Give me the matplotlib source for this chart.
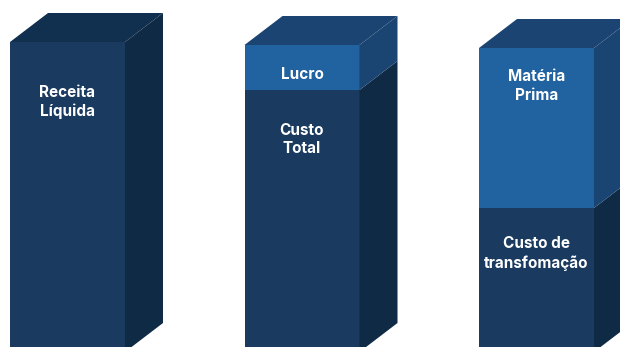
import numpy as np
import matplotlib
matplotlib.use('Agg')
import matplotlib.pyplot as plt
from matplotlib.patches import Polygon

# Stacked segments of each column (bottom -> top), arbitrary units
bars = ['Receita Líquida', 'Custo Total + Lucro', 'Matéria Prima + Transformação']
bottom_vals = [310, 262, 144]      # Receita Líquida / Custo Total / Custo de transformação
top_vals = [0, 45, 160]            # - / Lucro / Matéria Prima
bottom_labels = ['Receita\nLíquida', 'Custo\nTotal', 'Custo de\ntransfomação']
top_labels = ['', 'Lucro', 'Matéria\nPrima']

# colours
front_dark = '#1b3a60'
side_dark = '#0f2a44'
top_dark = '#112f4f'
front_light = '#2162a0'
side_light = '#1a4471'
top_light = '#1b4472'

width = 115
dx, dy = 38, 29
x = 67.5 + 234.5 * np.arange(len(bars))

fig = plt.figure(figsize=(6.2, 3.47), dpi=100)
ax = fig.add_axes([0, 0, 1, 1])
ax.set_xlim(0, 620)
ax.set_ylim(5, 352)
ax.axis('off')

ax.bar(x, bottom_vals, width=width, color=front_dark, linewidth=0)
ax.bar(x, top_vals, width=width, bottom=bottom_vals, color=front_light, linewidth=0)

for i in range(len(bars)):
    xl, xr = x[i] - width / 2, x[i] + width / 2
    b = bottom_vals[i]
    t = b + top_vals[i]
    # side faces
    ax.add_patch(Polygon([(xr, 0), (xr + dx, dy), (xr + dx, b + dy), (xr, b)],
                         closed=True, color=side_dark, lw=0))
    if top_vals[i] > 0:
        ax.add_patch(Polygon([(xr, b), (xr + dx, b + dy), (xr + dx, t + dy), (xr, t)],
                             closed=True, color=side_light, lw=0))
        top_col = top_light
    else:
        top_col = top_dark
    # top face
    ax.add_patch(Polygon([(xl, t), (xr, t), (xr + dx, t + dy), (xl + dx, t + dy)],
                         closed=True, color=top_col, lw=0))

# label offsets below each segment top (layout only)
bottom_off = [60, 49.5, 45.5]
top_off = [0, 29, 38]
txt = dict(color='white', fontsize=11, fontweight='bold', family=['Inter', 'DejaVu Sans'],
           ha='center', va='center', linespacing=1.3)
for i in range(len(bars)):
    b = bottom_vals[i]
    ax.text(x[i], b - bottom_off[i], bottom_labels[i], **txt)
    if top_labels[i]:
        ax.text(x[i], b + top_vals[i] - top_off[i], top_labels[i], **txt)

fig.savefig('out.png', dpi=100)
